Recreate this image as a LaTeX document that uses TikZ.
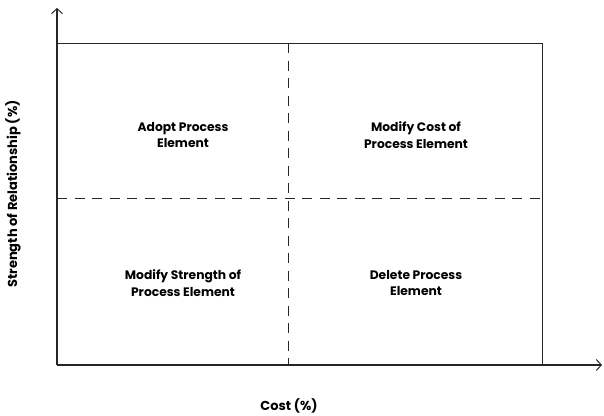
\documentclass[tikz,border=0pt]{standalone}
\usepackage{fontspec}
\setmainfont{Poppins}
\usetikzlibrary{arrows.meta}
\begin{document}
\begin{tikzpicture}[x=1pt,y=-1pt,
  lbl/.style={font=\fontsize{12.3}{16.5}\selectfont\bfseries, align=center, text=black},
  axlbl/.style={font=\fontsize{13}{16}\selectfont\bfseries, text=black},
  axis/.style={line width=1.2pt, draw=black!85, -{Straight Barb[length=5pt,width=11pt,line width=1pt]}},
  frame/.style={line width=1pt, draw=black!85},
  divider/.style={line width=1pt, draw=black!85, dash pattern=on 10pt off 7.5pt}]
\useasboundingbox (0,0) rectangle (604,415);
\coordinate (O) at (57,365);
\coordinate (Ytip) at (57,8);
\coordinate (Xtip) at (602,365);
\coordinate (TL) at (57,43);
\coordinate (BR) at (542,365);
\coordinate (Vt) at (288.5,43);
\coordinate (Vb) at (288.5,365);
\coordinate (Hl) at (57,198);
\coordinate (Hr) at (542,198);
\draw[frame] (TL) rectangle (BR);
\draw[divider] (Vt) -- (Vb);
\draw[divider] (Hl) -- (Hr);
\draw[axis] (O) -- (Ytip);
\draw[axis] (O) -- (Xtip);
\node[lbl] (adopt) at (183,135) {Adopt Process\\Element};
\node[lbl] (modcost) at (416,135) {Modify Cost of\\Process Element};
\node[lbl] (modstr) at (183,283) {Modify Strength of\\Process Element};
\node[lbl] (del) at (416,283) {Delete Process\\Element};
\node[axlbl] (xlab) at (289,406) {Cost (\%)};
\node[axlbl, rotate=90] (ylab) at (13,194) {Strength of Relationship (\%)};
\end{tikzpicture}
\end{document}
